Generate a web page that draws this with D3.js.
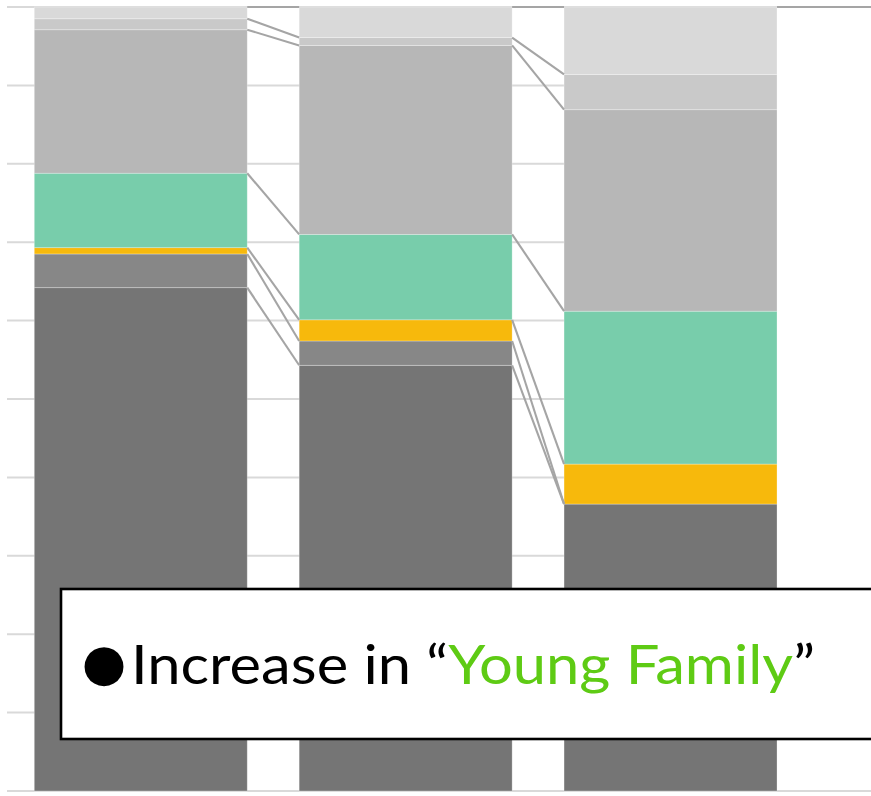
<!DOCTYPE html>
<html>
<head>
<meta charset="utf-8">
<script src="https://cdn.jsdelivr.net/npm/d3@7"></script>
<style>
  html, body { margin: 0; padding: 0; background: #fff; }
  svg { display: block; }
</style>
</head>
<body>
<svg id="chart" width="871" height="796"></svg>
<script>
// Household composition by period, stacked to 100%
const categories = ["Period 1", "Period 2", "Period 3"];
const seriesNames = ["Type A", "Type B", "Type C", "Young Family", "Type E", "Type F", "Type G"];
const typeA = [64.2, 54.3, 36.6];
const typeB = [4.3, 3.1, 0.0];
const typeC = [0.8, 2.7, 5.1];
const youngFamily = [9.5, 10.9, 19.5];
const typeE = [18.3, 24.1, 25.7];
const typeF = [1.4, 1.0, 4.5];
const typeG = [1.5, 3.9, 8.6];
const seriesColors = ["#757575", "#878787", "#f7b90c", "#78cdab", "#b7b7b7", "#c9c9c9", "#d9d9d9"];
const gridTicks = [0, 10, 20, 30, 40, 50, 60, 70, 80, 90, 100];

const W = 871, H = 796;
const plot = { left: 7, top: 7, bottom: 791 };

const rows = categories.map((c, i) => ({
  cat: c,
  "Type A": typeA[i], "Type B": typeB[i], "Type C": typeC[i],
  "Young Family": youngFamily[i], "Type E": typeE[i], "Type F": typeF[i], "Type G": typeG[i]
}));

const stack = d3.stack().keys(seriesNames)(rows);

const x = d3.scaleBand()
  .domain(categories)
  .range([plot.left, 804.3])
  .paddingInner(0.196)
  .paddingOuter(0.103);
const bw = x.bandwidth();
const y = d3.scaleLinear().domain([0, 100]).range([plot.bottom, plot.top]);

const svg = d3.select("#chart");
const lastRight = x(categories[categories.length - 1]) + bw;

// horizontal gridlines
svg.append("g").selectAll("line")
  .data(gridTicks)
  .join("line")
  .attr("x1", plot.left)
  .attr("x2", d => d === 0 ? W : lastRight)
  .attr("y1", d => y(d))
  .attr("y2", d => y(d))
  .attr("stroke", "#d9d9d9")
  .attr("stroke-width", 2);

// stacked bars
const layers = svg.append("g").selectAll("g")
  .data(stack)
  .join("g")
  .attr("fill", (d, i) => seriesColors[i]);

layers.selectAll("rect")
  .data(d => d)
  .join("rect")
  .attr("x", d => x(d.data.cat))
  .attr("width", bw)
  .attr("y", d => y(d[1]))
  .attr("height", d => Math.max(0, y(d[0]) - y(d[1])))
  .attr("stroke", "rgba(255,255,255,0.35)")
  .attr("stroke-width", 0.8);

// series lines joining segment tops of neighbouring bars
const links = [];
stack.forEach(s => {
  for (let i = 0; i < s.length - 1; i++) {
    links.push({ a: s[i][1], b: s[i + 1][1], i });
  }
});
svg.append("g").selectAll("line")
  .data(links)
  .join("line")
  .attr("x1", d => x(categories[d.i]) + bw)
  .attr("x2", d => x(categories[d.i + 1]))
  .attr("y1", d => y(d.a))
  .attr("y2", d => y(d.b))
  .attr("stroke", "#a5a5a5")
  .attr("stroke-width", 2.1);

svg.append("line")
  .attr("x1", lastRight).attr("x2", W)
  .attr("y1", y(100)).attr("y2", y(100))
  .attr("stroke", "#a5a5a5")
  .attr("stroke-width", 2.1);

// callout box
const box = svg.append("g");
box.append("rect")
  .attr("x", 61).attr("y", 589)
  .attr("width", 860).attr("height", 150)
  .attr("fill", "#fff")
  .attr("stroke", "#000")
  .attr("stroke-width", 2.6);

box.append("text")
  .attr("x", 104).attr("y", 680)
  .attr("text-anchor", "middle")
  .attr("font-family", "DejaVu Sans")
  .attr("font-size", 51)
  .attr("fill", "#000")
  .text("●");

const label = box.append("text")
  .attr("x", 131).attr("y", 684)
  .attr("font-family", "Lato, 'Open Sans', sans-serif")
  .attr("font-size", 55)
  .attr("textLength", 684)
  .attr("lengthAdjust", "spacingAndGlyphs")
  .attr("fill", "#000");
label.append("tspan").text("Increase in \u201C");
label.append("tspan").attr("fill", "#5ecb14").text("Young Family");
label.append("tspan").text("\u201D");
</script>
</body>
</html>
